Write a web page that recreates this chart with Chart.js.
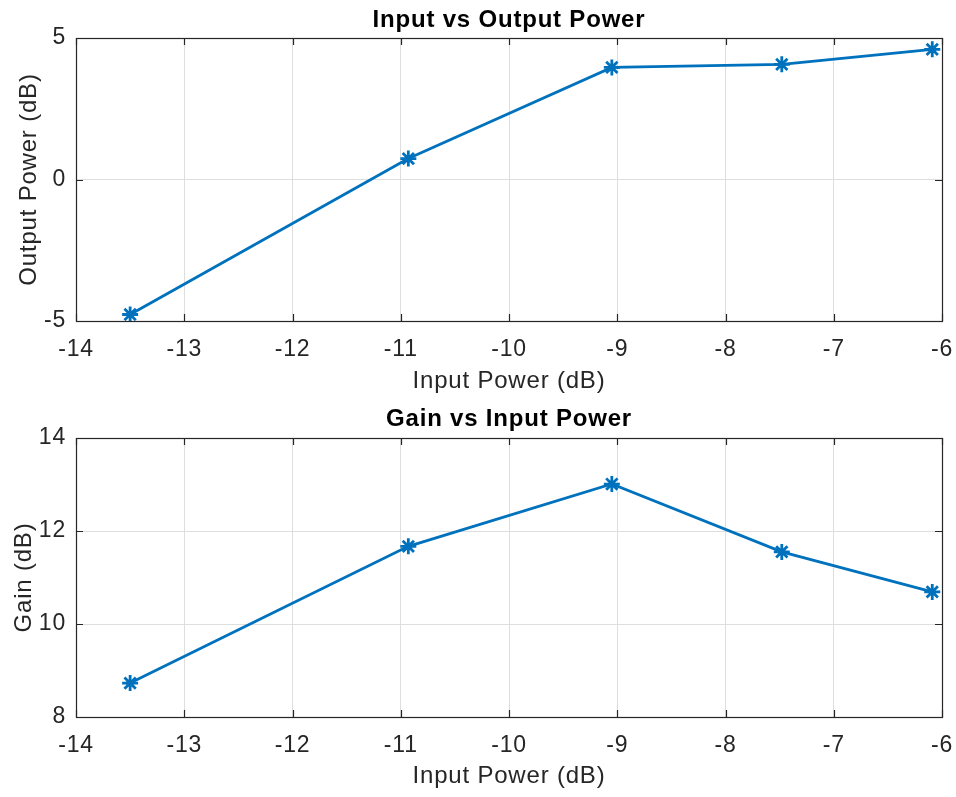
<!DOCTYPE html>
<html>
<head>
<meta charset="utf-8">
<script src="https://cdn.jsdelivr.net/npm/chart.js@4"></script>
<style>
  html, body { margin: 0; padding: 0; background: #ffffff; }
  #wrap { position: relative; width: 956px; height: 797px; }
  .box { position: absolute; left: 0; width: 956px; }
</style>
</head>
<body>
<div id="wrap">
  <div class="box" style="top:0px;height:398px;"><canvas id="c1"></canvas></div>
  <div class="box" style="top:400px;height:397px;"><canvas id="c2"></canvas></div>
</div>
<script>
// ---- data ----
const inputPower  = [-13.5, -10.93, -9.05, -7.48, -6.09];
const outputPower = [-4.77, 0.74, 3.96, 4.07, 4.60];
const gainDb      = [8.73, 11.67, 13.01, 11.55, 10.69];

const xTicks = [-14, -13, -12, -11, -10, -9, -8, -7, -6];
const yTicksTop = [-5, 0, 5];
const yTicksBottom = [8, 10, 12, 14];

const titles = ['Input vs Output Power', 'Gain vs Input Power'];
const xLabel = 'Input Power (dB)';
const yLabels = ['Output Power (dB)', 'Gain (dB)'];

const LINE = '#0072BD';
const AXIS = '#262626';
const GRID = '#dedede';
const FONT = 'Arial, "Liberation Sans", Helvetica, sans-serif';
const SPACING = '0.8px';

const spacingPlugin = {
  id: 'spacing',
  beforeLayout(chart) { chart.ctx.letterSpacing = SPACING; },
  beforeDraw(chart) { chart.ctx.letterSpacing = SPACING; }
};

const boxPlugin = {
  id: 'matlabBox',
  afterDraw(chart) {
    const ctx = chart.ctx, a = chart.chartArea;
    const xs = chart.scales.x, ys = chart.scales.y;
    ctx.save();
    ctx.strokeStyle = AXIS;
    ctx.lineWidth = 1.2;
    const tl = 7;
    ctx.beginPath();
    xs.ticks.forEach(t => {
      const px = Math.round(xs.getPixelForValue(t.value)) + 0.5;
      ctx.moveTo(px, a.bottom); ctx.lineTo(px, a.bottom - tl);
      ctx.moveTo(px, a.top); ctx.lineTo(px, a.top + tl);
    });
    ys.ticks.forEach(t => {
      const py = Math.round(ys.getPixelForValue(t.value)) + 0.5;
      ctx.moveTo(a.left, py); ctx.lineTo(a.left + tl, py);
      ctx.moveTo(a.right, py); ctx.lineTo(a.right - tl, py);
    });
    ctx.stroke();
    ctx.strokeRect(Math.round(a.left) + 0.5, Math.round(a.top) + 0.5,
                   Math.round(a.right - a.left), Math.round(a.bottom - a.top));
    ctx.restore();
  }
};

function makeChart(id, yVals, yMin, yMax, yTickVals, title, yLabel, xAxisH, xTitlePad, yTitlePad, topTitlePad) {
  const pts = inputPower.map((x, i) => ({ x: x, y: yVals[i] }));
  return new Chart(document.getElementById(id), {
    type: 'line',
    data: {
      datasets: [{
        data: pts,
        borderColor: LINE,
        backgroundColor: LINE,
        borderWidth: 2.8,
        pointStyle: 'star',
        pointRadius: 8,
        pointHoverRadius: 8,
        pointBorderWidth: 2.8,
        pointBorderColor: LINE,
        tension: 0,
        fill: false
      }]
    },
    options: {
      responsive: true,
      maintainAspectRatio: false,
      animation: false,
      events: [],
      layout: { padding: { left: 0, right: 14, top: 0, bottom: 0 } },
      plugins: {
        legend: { display: false },
        tooltip: { enabled: false },
        title: { display: false }
      },
      scales: {
        x: {
          type: 'linear',
          min: -14, max: -6,
          afterBuildTicks(s) { s.ticks = xTicks.map(v => ({ value: v })); },
          afterFit(s) { s.height = xAxisH; s.paddingRight = 0; s.paddingLeft = 0; },
          ticks: {
            color: AXIS,
            font: { family: FONT, size: 23 },
            padding: 15,
            maxRotation: 0,
            callback: v => String(v)
          },
          grid: { color: GRID, drawTicks: false, lineWidth: 1 },
          border: { display: false },
          title: {
            display: true, text: xLabel, color: AXIS,
            font: { family: FONT, size: 24 },
            padding: { top: 0, bottom: xTitlePad }
          }
        },
        xTitle: {
          type: 'linear',
          position: 'top',
          min: -14, max: -6,
          afterFit(s) { s.height = 38; s.paddingRight = 0; s.paddingLeft = 0; },
          ticks: { display: false },
          grid: { display: false, drawTicks: false },
          border: { display: false },
          title: {
            display: true, text: title, color: '#000000',
            font: { family: FONT, size: 24, weight: 'bold' },
            padding: { top: topTitlePad, bottom: 0 }
          }
        },
        y: {
          type: 'linear',
          min: yMin, max: yMax,
          afterBuildTicks(s) { s.ticks = yTickVals.map(v => ({ value: v })); },
          afterFit(s) { s.width = 76; },
          ticks: {
            color: AXIS,
            font: { family: FONT, size: 23 },
            padding: 10,
            callback: v => String(v)
          },
          grid: { color: GRID, drawTicks: false, lineWidth: 1 },
          border: { display: false },
          title: {
            display: true, text: yLabel, color: AXIS,
            font: { family: FONT, size: 24 },
            padding: { top: yTitlePad, bottom: 0 }
          }
        }
      }
    },
    plugins: [spacingPlugin, boxPlugin]
  });
}

makeChart('c1', outputPower, -5, 5, yTicksTop, titles[0], yLabels[0], 77, 2, 15, 6);
makeChart('c2', gainDb, 8, 14, yTicksBottom, titles[1], yLabels[1], 80, 6, 10, 5);
</script>
</body>
</html>
